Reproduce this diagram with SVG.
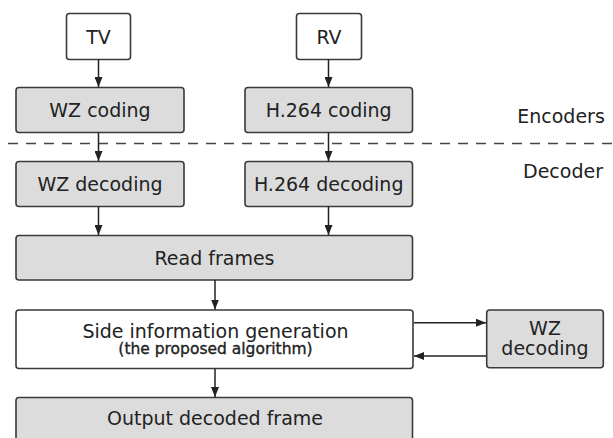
<svg xmlns="http://www.w3.org/2000/svg" width="613" height="438" viewBox="0 0 613 438">
  <style>
    .box { stroke: #3a3a3a; stroke-width: 1.6; }
    .grey { fill: #dcdcdc; }
    .white { fill: #ffffff; }
    .lbl { font-family: "DejaVu Sans", "Liberation Sans", sans-serif; font-size: 19px; fill: #222; text-anchor: middle; }
    .sub { font-size: 15.5px; stroke: #222; stroke-width: 0.35; }
    .edge { stroke: #222; stroke-width: 1.5; fill: none; marker-end: url(#arrow); }
    .sep { stroke: #444; stroke-width: 1.5; stroke-dasharray: 10 8; }
  </style>
  <defs>
    <marker id="arrow" viewBox="0 0 10 8" refX="10" refY="4" markerWidth="10" markerHeight="8" markerUnits="userSpaceOnUse" orient="auto">
      <path d="M0,0 L10,4 L0,8 z" fill="#222"/>
    </marker>
  </defs>
  <rect width="613" height="438" fill="#ffffff"/>

  <!-- encoder / decoder split -->
  <line class="sep" x1="8" y1="143.5" x2="613" y2="143.5"/>
  <text class="lbl" x="561" y="122.5">Encoders</text>
  <text class="lbl" x="563" y="177.5">Decoder</text>

  <g id="tv">
    <rect class="box white" x="66.5" y="13.5" width="64" height="46" rx="3"/>
    <text class="lbl" x="98.5" y="43.5">TV</text>
  </g>
  <g id="rv">
    <rect class="box white" x="296.5" y="13.5" width="65" height="46" rx="3"/>
    <text class="lbl" x="329" y="43.5">RV</text>
  </g>
  <g id="wz-coding">
    <rect class="box grey" x="16" y="87.5" width="168" height="45" rx="3"/>
    <text class="lbl" x="100" y="117">WZ coding</text>
  </g>
  <g id="h264-coding">
    <rect class="box grey" x="245" y="87.5" width="167.5" height="45" rx="3"/>
    <text class="lbl" x="328.7" y="117">H.264 coding</text>
  </g>
  <g id="wz-decoding">
    <rect class="box grey" x="16" y="161.5" width="168" height="45" rx="3"/>
    <text class="lbl" x="100" y="191">WZ decoding</text>
  </g>
  <g id="h264-decoding">
    <rect class="box grey" x="245" y="161.5" width="167.5" height="45" rx="3"/>
    <text class="lbl" x="328.7" y="191">H.264 decoding</text>
  </g>
  <g id="read-frames">
    <rect class="box grey" x="16" y="235.5" width="396.5" height="44.5" rx="3"/>
    <text class="lbl" x="214.5" y="265">Read frames</text>
  </g>
  <g id="side-info">
    <rect class="box white" x="16" y="310" width="397" height="58.5" rx="3"/>
    <text class="lbl" x="215.5" y="337.5">Side information generation</text>
    <text class="lbl sub" x="215.5" y="354">(the proposed algorithm)</text>
  </g>
  <g id="wz-decoding-loop">
    <rect class="box grey" x="486.7" y="310" width="116.6" height="57.7" rx="3"/>
    <text class="lbl" x="545" y="334.5">WZ</text>
    <text class="lbl" x="545" y="355">decoding</text>
  </g>
  <g id="output">
    <rect class="box grey" x="16" y="397.5" width="396.5" height="46" rx="3"/>
    <text class="lbl" x="215" y="425">Output decoded frame</text>
  </g>

  <g id="connectors">
    <line class="edge" x1="98.5" y1="59.5" x2="98.5" y2="87"/>
    <line class="edge" x1="328.5" y1="59.5" x2="328.5" y2="87"/>
    <line class="edge" x1="98.5" y1="132.5" x2="98.5" y2="161"/>
    <line class="edge" x1="328.5" y1="132.5" x2="328.5" y2="161"/>
    <line class="edge" x1="98.5" y1="206.5" x2="98.5" y2="235"/>
    <line class="edge" x1="328.5" y1="206.5" x2="328.5" y2="235"/>
    <line class="edge" x1="215" y1="280" x2="215" y2="309.5"/>
    <line class="edge" x1="215" y1="368.5" x2="215" y2="397"/>
    <line class="edge" x1="414" y1="322.7" x2="486" y2="322.7"/>
    <line class="edge" x1="486.5" y1="356" x2="414" y2="356"/>
  </g>
</svg>
